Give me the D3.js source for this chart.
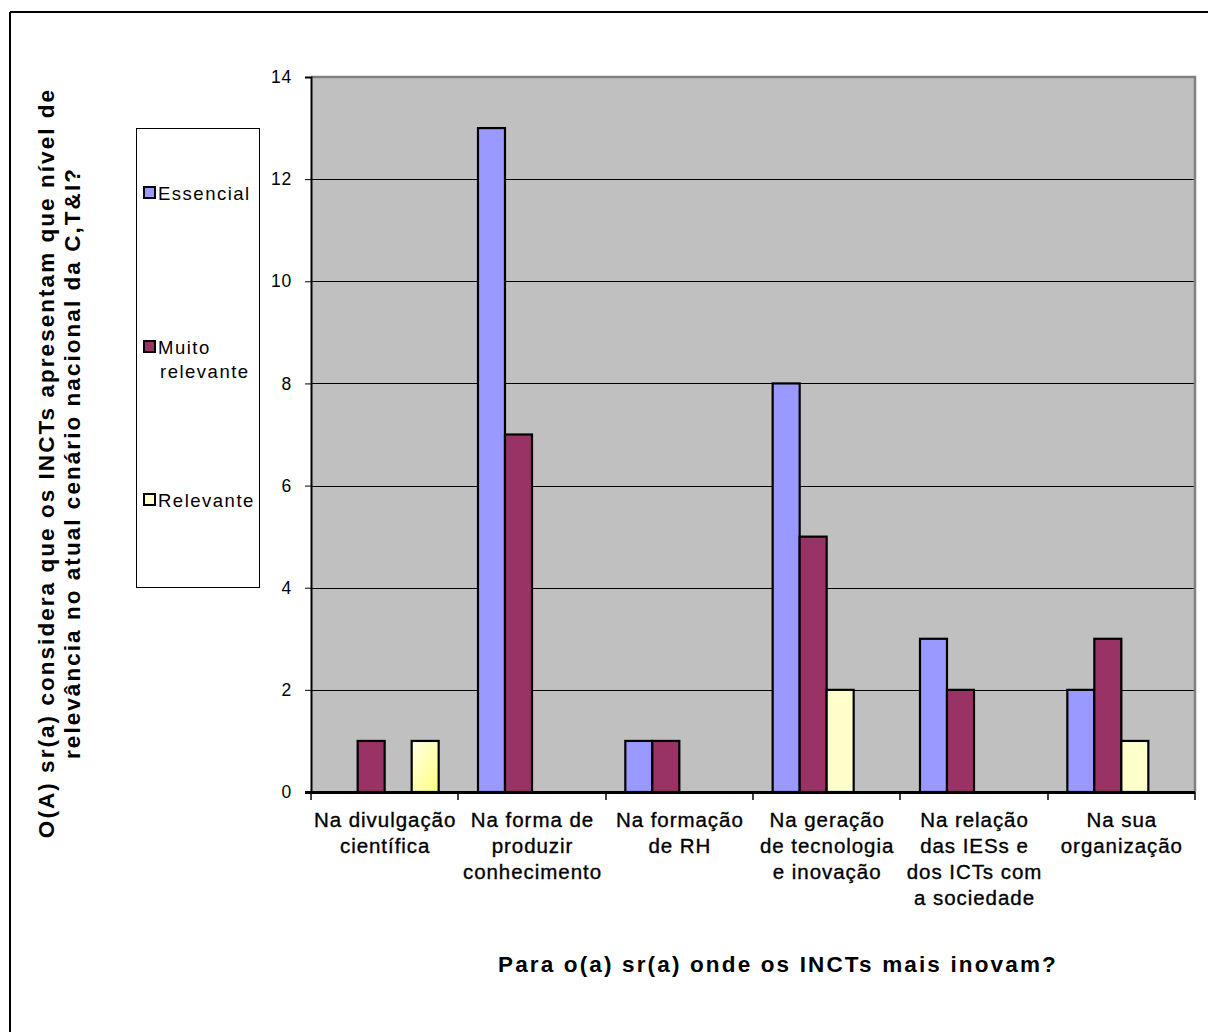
<!DOCTYPE html>
<html>
<head>
<meta charset="utf-8">
<script src="https://cdn.jsdelivr.net/npm/d3@7/dist/d3.min.js"></script>
<style>
  html, body { margin: 0; padding: 0; background: #fff; }
  svg { display: block; font-family: "Liberation Sans", Arial, sans-serif; }
</style>
</head>
<body>
<svg id="chart" width="1208" height="1032"></svg>
<script>
// Survey answers: where the INCTs innovate most, by perceived relevance level
const categories = [
  ["Na divulgação", "científica"],
  ["Na forma de", "produzir", "conhecimento"],
  ["Na formação", "de RH"],
  ["Na geração", "de tecnologia", "e inovação"],
  ["Na relação", "das IESs e", "dos ICTs com", "a sociedade"],
  ["Na sua", "organização"]
];
const seriesNames = ["Essencial", "Muito relevante", "Relevante", ""];
const essencial      = [0, 13, 1, 8, 3, 2];
const muitoRelevante = [1, 7, 1, 5, 2, 3];
const relevante      = [0, 0, 0, 2, 0, 1];
const relevanteExtra = [1, 0, 0, 0, 0, 0];   // fourth slot, drawn with a gradient, no legend entry
const seriesValues = [essencial, muitoRelevante, relevante, relevanteExtra];
const seriesColors = ["#9999FF", "#993366", "#FFFFCC", "url(#yellowGrad)"];
const yTicks = [0, 2, 4, 6, 8, 10, 12, 14];
const legendLines = [["Essencial"], ["Muito", "relevante"], ["Relevante"]];

const svg = d3.select("#chart");

// Gradient for the extra yellow bar
const defs = svg.append("defs");
const grad = defs.append("linearGradient").attr("id", "yellowGrad")
  .attr("x1", "0%").attr("y1", "0%").attr("x2", "100%").attr("y2", "100%");
grad.append("stop").attr("offset", "0%").attr("stop-color", "#FFFFE6");
grad.append("stop").attr("offset", "100%").attr("stop-color", "#FFFF80");

// Outer frame (top and left edges)
svg.append("line").attr("x1", 10).attr("y1", 12).attr("x2", 1208).attr("y2", 12)
  .attr("stroke", "#000").attr("stroke-width", 2);
svg.append("line").attr("x1", 10).attr("y1", 12).attr("x2", 10).attr("y2", 1032)
  .attr("stroke", "#000").attr("stroke-width", 2);

const plot = { left: 311, right: 1195, top: 77, bottom: 792 };

const x = d3.scaleBand().domain(d3.range(categories.length))
  .range([plot.left, plot.right]).paddingInner(0).paddingOuter(0);
const xs = d3.scaleBand().domain(d3.range(seriesValues.length))
  .range([0, x.bandwidth()]).paddingInner(0).paddingOuter(0.728);
const y = d3.scaleLinear().domain([0, 14]).range([plot.bottom, plot.top]);

// Plot area background
svg.append("rect")
  .attr("x", plot.left).attr("y", plot.top)
  .attr("width", plot.right - plot.left).attr("height", plot.bottom - plot.top)
  .attr("fill", "#C0C0C0");

// Gridlines
svg.append("g").selectAll("line").data(yTicks.filter(d => d > 0 && d < 14)).join("line")
  .attr("x1", plot.left).attr("x2", plot.right)
  .attr("y1", d => Math.round(y(d)) + 0.5).attr("y2", d => Math.round(y(d)) + 0.5)
  .attr("stroke", "#000").attr("stroke-width", 1);

// Top and right border of the plot area
svg.append("path")
  .attr("d", `M${plot.left},${plot.top} H${plot.right} V${plot.bottom}`)
  .attr("fill", "none").attr("stroke", "#808080").attr("stroke-width", 2.5);

// Bars
const bars = [];
seriesValues.forEach((vals, s) => vals.forEach((v, c) => { if (v > 0) bars.push({ s, c, v }); }));
svg.append("g").selectAll("rect").data(bars).join("rect")
  .attr("x", d => x(d.c) + xs(d.s))
  .attr("y", d => y(d.v))
  .attr("width", xs.bandwidth())
  .attr("height", d => y(0) - y(d.v))
  .attr("fill", d => seriesColors[d.s])
  .attr("stroke", "#000").attr("stroke-width", 2.2);

// Y axis
const yAxis = svg.append("g").attr("transform", `translate(${plot.left},0)`)
  .call(d3.axisLeft(y).tickValues(yTicks).tickSize(6).tickPadding(13).tickFormat(d3.format("d")));
yAxis.select(".domain").attr("stroke", "#000").attr("stroke-width", 2);
yAxis.selectAll(".tick line").attr("stroke", "#000");
yAxis.selectAll(".tick text").attr("font-size", 17.5).attr("fill", "#000")
  .attr("letter-spacing", 0.8)
  .attr("font-family", "'Liberation Sans', Arial, sans-serif");

// X axis: bottom line with ticks at category boundaries
svg.append("line").attr("x1", plot.left - 6).attr("x2", plot.right)
  .attr("y1", plot.bottom + 0.5).attr("y2", plot.bottom + 0.5)
  .attr("stroke", "#000").attr("stroke-width", 3);
const boundaries = d3.range(categories.length + 1).map(i => plot.left + i * x.step());
svg.append("g").selectAll("line").data(boundaries).join("line")
  .attr("x1", d => Math.round(d)).attr("x2", d => Math.round(d))
  .attr("y1", plot.bottom).attr("y2", plot.bottom + 8)
  .attr("stroke", "#000").attr("stroke-width", 1.5);

// Category labels
const catG = svg.append("g");
categories.forEach((lines, c) => {
  const cx = x(c) + x.bandwidth() / 2;
  const t = catG.append("text")
    .attr("x", cx)
    .attr("y", 827)
    .attr("text-anchor", "middle")
    .attr("font-size", 20.5).attr("fill", "#000")
    .attr("letter-spacing", 0.95)
    .attr("stroke", "#000").attr("stroke-width", 0.35);
  lines.forEach((ln, i) => t.append("tspan")
    .attr("x", cx + 0.5).attr("dy", i === 0 ? 0 : 26).text(ln));
});

// X axis title
svg.append("text").attr("x", 778).attr("y", 972).attr("text-anchor", "middle")
  .attr("font-size", 22.5).attr("font-weight", "bold").attr("fill", "#000")
  .attr("letter-spacing", 2.15)
  .text("Para o(a) sr(a) onde os INCTs mais inovam?");

// Y axis title (two lines, rotated)
const yt = svg.append("text").attr("transform", "translate(54,463) rotate(-90)")
  .attr("text-anchor", "middle").attr("font-size", 22.5).attr("font-weight", "bold").attr("fill", "#000")
  .attr("letter-spacing", 2.05);
yt.append("tspan").attr("x", 0).attr("dy", 0)
  .text("O(A) sr(a) considera que os INCTs apresentam que nível de");
yt.append("tspan").attr("x", 0).attr("dy", 26)
  .text("relevância no atual cenário nacional da C,T&I?");

// Legend
const legend = svg.append("g");
legend.append("rect").attr("x", 136.5).attr("y", 128.5).attr("width", 123).attr("height", 459)
  .attr("fill", "#fff").attr("stroke", "#000").attr("stroke-width", 1);
const legendY = [193, 347, 500];
legendLines.forEach((lines, i) => {
  legend.append("rect").attr("x", 144).attr("y", legendY[i] - 6).attr("width", 11).attr("height", 11)
    .attr("fill", seriesColors[i]).attr("stroke", "#000").attr("stroke-width", 2);
  const t = legend.append("text").attr("x", 158).attr("y", legendY[i] + 6.5)
    .attr("font-size", 18.5).attr("fill", "#000").attr("letter-spacing", 1.5);
  lines.forEach((ln, j) => t.append("tspan")
    .attr("x", j === 0 ? 158 : 160).attr("dy", j === 0 ? 0 : 24).text(ln));
});
</script>
</body>
</html>
